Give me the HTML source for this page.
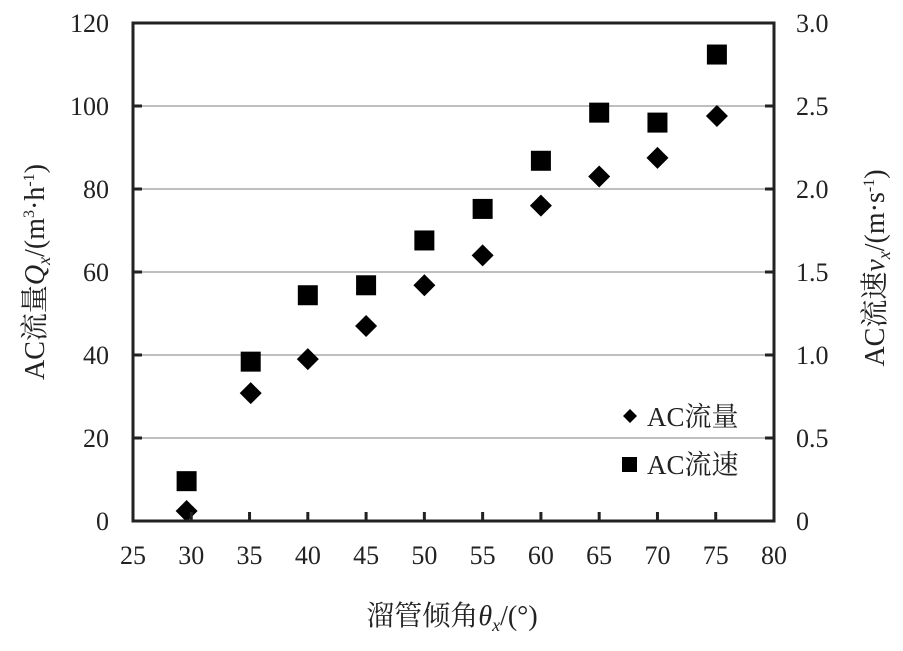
<!DOCTYPE html>
<html><head><meta charset="utf-8"><style>
body{margin:0;background:#fff}
svg text{font-family:"Liberation Serif","Noto Serif CJK SC",serif;fill:#222}
</style></head><body>
<svg id="chart" width="903" height="646" xmlns="http://www.w3.org/2000/svg">
<g id="grid"></g>
<g id="marks"></g>
<g id="axes"></g>
<text x="452" y="625" font-size="28" text-anchor="middle">溜管倾角<tspan font-style="italic">θ</tspan><tspan font-style="italic" font-size="18" dy="6">x</tspan><tspan dy="-6">/(°)</tspan></text>
<text transform="translate(44,272) rotate(-90)" font-size="28" text-anchor="middle">AC流量<tspan font-style="italic">Q</tspan><tspan font-style="italic" font-size="18" dy="6">x</tspan><tspan dy="-6">/(m</tspan><tspan font-size="16" dy="-10">3</tspan><tspan dy="10">·h</tspan><tspan font-size="16" dy="-10">-1</tspan><tspan dy="10">)</tspan></text>
<text transform="translate(884,268) rotate(-90)" font-size="28" text-anchor="middle">AC流速<tspan font-style="italic">v</tspan><tspan font-style="italic" font-size="18" dy="6">x</tspan><tspan dy="-6">/(m·s</tspan><tspan font-size="16" dy="-10">-1</tspan><tspan dy="10">)</tspan></text>
<g>
<path d="M630,409 l7,7 l-7,7 l-7,-7z" fill="#000"/>
<text x="647" y="426" font-size="27">AC流量</text>
<rect x="622" y="457" width="15" height="15" fill="#000"/>
<text x="647" y="474" font-size="27">AC流速</text>
</g>
</svg>
<script>
const angles=[29.6,35.1,40,45,50,55,60,65,70,75.1];
const flow=[2.4,30.8,39,47,56.8,64,76,83,87.5,97.6];
const velocity=[0.24,0.96,1.36,1.42,1.69,1.88,2.17,2.46,2.40,2.81];
const xTicks=[25,30,35,40,45,50,55,60,65,70,75,80];
const yLeftTicks=[0,20,40,60,80,100,120];
const yRightTicks=["0","0.5","1.0","1.5","2.0","2.5","3.0"];
const X0=133,X1=774,Y0=521,Y1=23;
const xs=v=>X0+(v-25)/55*(X1-X0);
const yl=v=>Y0-v/120*(Y0-Y1);
const yr=v=>Y0-v/3*(Y0-Y1);
const NS="http://www.w3.org/2000/svg";
function mk(t,parent,attrs){const e=document.createElementNS(NS,t);for(const k in attrs)e.setAttribute(k,attrs[k]);document.getElementById(parent).appendChild(e);return e;}
yLeftTicks.forEach((v,i)=>{
 const y=yl(v);
 if(v>0&&v<120){const g=mk('line','grid',{x1:X0,x2:X1,y1:y,y2:y,stroke:'#999','stroke-width':1.2});
 
 
 const t1=mk('line','axes',{x1:X0,x2:X0+9,y1:y,y2:y,stroke:'#222','stroke-width':3});
 
 
 const t2=mk('line','axes',{x1:X1-9,x2:X1,y1:y,y2:y,stroke:'#222','stroke-width':3});
 
 }
 const l=mk('text','axes',{x:X0-24,y:y+9,'font-size':26,'text-anchor':'end'});l.textContent=v;
 
 
 const r=mk('text','axes',{x:X1+22,y:y+9,'font-size':26});r.textContent=yRightTicks[i];
 
 
});
xTicks.forEach(v=>{
 const x=xs(v);
 if(v>25&&v<80){const t=mk('line','axes',{x1:x,x2:x,y1:Y0,y2:Y0-9,stroke:'#222','stroke-width':3});
 
 }
 const l=mk('text','axes',{x:x,y:Y0+43,'font-size':26,'text-anchor':'middle'});l.textContent=v;
 
 
});
const frame=mk('rect','axes',{x:X0,y:Y1,width:X1-X0,height:Y0-Y1,fill:'none',stroke:'#222','stroke-width':3});


angles.forEach((a,i)=>{
 const x=xs(a),y=yl(flow[i]);
 const d=mk('path','marks',{d:`M${x},${y-11} l11,11 l-11,11 l-11,-11z`,fill:'#000'});
 
 
 const y2=yr(velocity[i]);
 const s=mk('rect','marks',{x:x-10,y:y2-10,width:20,height:20,fill:'#000'});
 
 
});
</script>
</body></html>
